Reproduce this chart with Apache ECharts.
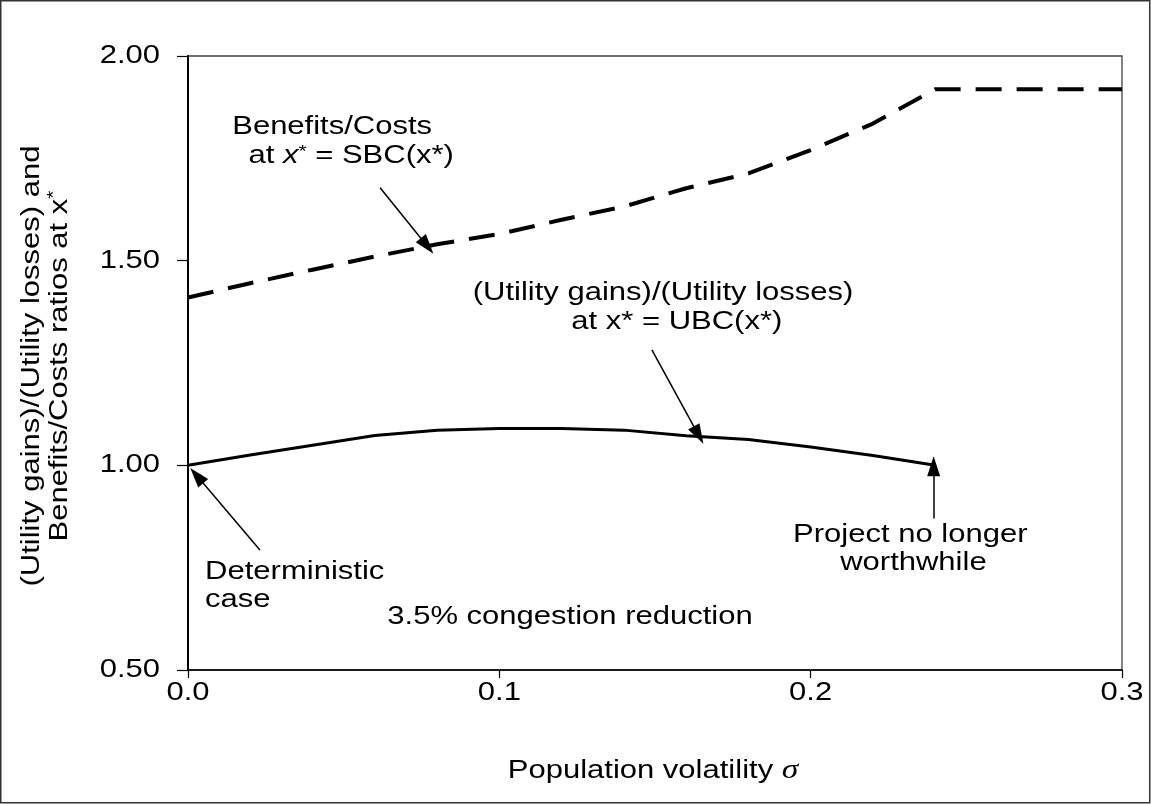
<!DOCTYPE html>
<html>
<head>
<meta charset="utf-8">
<script src="https://cdn.jsdelivr.net/npm/echarts@6/dist/echarts.min.js"></script>
<style>
html,body{margin:0;padding:0;background:#fff;}
#c{width:1151px;height:804px;}
</style>
</head>
<body>
<div id="c"></div>
<script>
// ---- data ----
const sigmaSBC = [0, 0.02, 0.04, 0.06, 0.08, 0.10, 0.12, 0.14, 0.16, 0.18, 0.20, 0.22, 0.24, 0.26, 0.28, 0.30];
const sbcValues = [1.41, 1.445, 1.478, 1.51, 1.54, 1.565, 1.60, 1.632, 1.677, 1.713, 1.77, 1.835, 1.919, 1.919, 1.919, 1.919];
const sigmaUBC = [0, 0.02, 0.04, 0.06, 0.08, 0.10, 0.12, 0.14, 0.16, 0.18, 0.20, 0.22, 0.24];
const ubcValues = [1.00, 1.025, 1.049, 1.073, 1.086, 1.09, 1.09, 1.086, 1.072, 1.063, 1.045, 1.024, 1.00];
const xTicks = [0.0, 0.1, 0.2, 0.3];
const yTicks = [0.50, 1.00, 1.50, 2.00];

const FONT = 'Liberation Sans, Arial, sans-serif';
const FS = 25;      // glyph height
const SX = 1.24;    // horizontal stretch of the reference text
const chart = echarts.init(document.getElementById('c'), null, {renderer: 'canvas'});

function pairs(xs, ys) { return xs.map((x, i) => [x, ys[i]]); }
function arrow(from, to) {
  return [{coord: from, symbol: 'none'}, {coord: to, symbol: 'triangle', symbolSize: [13, 20]}];
}

chart.setOption({
  animation: false,
  backgroundColor: '#fff',
  grid: {left: 188, right: 29, top: 56, bottom: 134, show: true, borderColor: '#444', borderWidth: 1.3},
  xAxis: {
    type: 'value', min: xTicks[0], max: xTicks[xTicks.length - 1], interval: 0.1,
    axisLine: {show: true, lineStyle: {color: '#000', width: 1.5}},
    axisTick: {show: true, inside: false, length: 8, lineStyle: {color: '#000', width: 1.2}},
    splitLine: {show: false},
    axisLabel: {show: false}
  },
  yAxis: {
    type: 'value', min: yTicks[0], max: yTicks[yTicks.length - 1], interval: 0.5,
    axisLine: {show: true, lineStyle: {color: '#000', width: 2}},
    axisTick: {show: true, inside: false, length: 11, lineStyle: {color: '#000', width: 1.2}},
    splitLine: {show: false},
    axisLabel: {show: false}
  },
  series: [
    {
      type: 'line', data: pairs(sigmaSBC, sbcValues), symbol: 'none',
      lineStyle: {color: '#000', width: 4, type: [26, 15]},
      markLine: {
        silent: true, animation: false, label: {show: false},
        lineStyle: {color: '#000', width: 1.5, type: 'solid'},
        data: [
          arrow([0.0617, 1.678], [0.0768, 1.536]),
          arrow([0.149, 1.282], [0.164, 1.074]),
          arrow([0.0231, 0.793], [0.0028, 0.975]),
          arrow([0.2395, 0.87], [0.2395, 0.998])
        ]
      }
    },
    {
      type: 'line', data: pairs(sigmaUBC, ubcValues), symbol: 'none',
      lineStyle: {color: '#000', width: 3}
    }
  ]
});

function px(x, y) { return chart.convertToPixel({gridIndex: 0}, [x, y]); }
function txt(x, y, text, align, extra) {
  return Object.assign({type: 'text', x: x, y: y, scaleX: SX, silent: true,
    style: {text: text, fontFamily: FONT, fontSize: FS, fill: '#000', align: align || 'center', verticalAlign: 'middle'}}, extra || {});
}
function label(sx, vy, text, align) {
  const p = px(sx, vy);
  return txt(p[0], p[1], text, align);
}
const supRich = {
  n: {fontFamily: FONT, fontSize: FS, fill: '#000'},
  i: {fontFamily: FONT, fontSize: FS, fontStyle: 'italic', fill: '#000'},
  s: {fontFamily: FONT, fontSize: 17, fill: '#000', verticalAlign: 'top'}
};

const g = [];
g.push({type: 'rect', shape: {x: 0.75, y: 0.75, width: 1149, height: 802}, style: {fill: 'none', stroke: '#333', lineWidth: 1.5}, silent: true});
// tick labels
yTicks.forEach(v => { const p = px(0, v); g.push(txt(p[0] - 28, p[1], v.toFixed(2), 'right')); });
xTicks.forEach(v => { const p = px(v, yTicks[0]); g.push(txt(p[0], p[1] + 23, v.toFixed(1), 'center')); });
// axis titles
const pc = px((xTicks[0] + xTicks[xTicks.length - 1]) / 2, yTicks[0]);
g.push({type: 'text', x: pc[0] - 2, y: 771, scaleX: SX, silent: true,
  style: {text: '{t|Population volatility }{s|σ}', align: 'center', verticalAlign: 'middle',
    rich: {t: {fontFamily: FONT, fontSize: FS, fill: '#000'},
           s: {fontFamily: 'Liberation Serif, serif', fontStyle: 'italic', fontSize: FS + 2, fill: '#000'}}}});
g.push({type: 'text', x: 46, y: 366, rotation: Math.PI / 2, scaleX: SX, silent: true,
  style: {text: '{n|(Utility gains)/(Utility losses) and}\n{n|Benefits/Costs ratios at x}{s|*}', align: 'center', verticalAlign: 'middle',
    rich: {n: {fontFamily: FONT, fontSize: FS, fill: '#000', lineHeight: 28},
           s: {fontFamily: FONT, fontSize: 17, fill: '#000', verticalAlign: 'top', lineHeight: 28}}}});
// annotations
g.push(label(0.0463, 1.827, 'Benefits/Costs'));
(function () { const p = px(0.0524, 1.756); g.push(txt(p[0], p[1], '{n|at }{i|x}{s|*}{n| = SBC(x*)}', 'center', {style: {text: '{n|at }{i|x}{s|*}{n| = SBC(x*)}', align: 'center', verticalAlign: 'middle', rich: supRich}})); })();
g.push(label(0.1526, 1.421, '(Utility gains)/(Utility losses)'));
g.push(label(0.157, 1.35, 'at x* = UBC(x*)'));
g.push(label(0.0055, 0.74, 'Deterministic', 'left'));
g.push(label(0.0055, 0.67, 'case', 'left'));
g.push(label(0.232, 0.83, 'Project no longer'));
g.push(label(0.233, 0.76, 'worthwhile'));
g.push(label(0.1227, 0.63, '3.5% congestion reduction'));

chart.setOption({graphic: g});
</script>
</body>
</html>
